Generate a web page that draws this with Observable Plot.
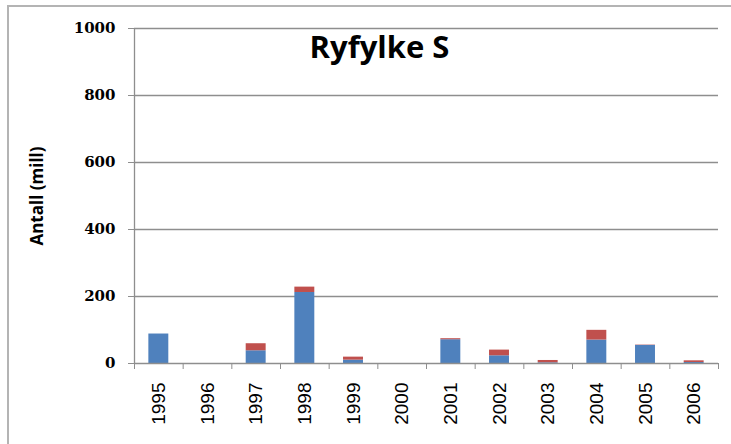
<!DOCTYPE html>
<html><head><meta charset="utf-8">
<script src="https://cdn.jsdelivr.net/npm/d3@7"></script>
<script src="https://cdn.jsdelivr.net/npm/@observablehq/plot@0.6"></script>
<style>
body{margin:0;background:#fff;}
#wrap{position:relative;width:731px;height:444px;overflow:hidden;}
#border{position:absolute;left:7px;top:5px;width:730px;height:450px;border-left:2px solid #b4b4b4;border-top:2px solid #b4b4b4;pointer-events:none;}
#wrap svg{position:absolute;left:0;top:0;}
</style></head><body><div id="wrap"><div id="border"></div></div>
<script>
const years = [1995, 1996, 1997, 1998, 1999, 2000, 2001, 2002, 2003, 2004, 2005, 2006];
const blueVals = [88, 0, 38, 212, 10, 0, 71, 23, 2, 70, 54, 3];
const redVals  = [0, 0, 21, 16, 9, 0, 3, 17, 7, 29, 1, 5];
const seriesNames = ["Serie 1", "Serie 2"];
const seriesColors = ["#4F81BD", "#C0504D"];
const yTicks = [0, 200, 400, 600, 800, 1000];
const title = "Ryfylke S";
const yLabel = "Antall (mill)";

const halfBar = 0.205;
const rows = years.flatMap((yr, i) => [
  {year: yr, series: seriesNames[0], y1: 0, y2: blueVals[i]},
  {year: yr, series: seriesNames[1], y1: blueVals[i], y2: blueVals[i] + redVals[i]}
]);
const boundaries = [years[0] - 0.5, ...years.map(y => y + 0.5)];
const grid = "#8e8e8e";

const chart = Plot.plot({
  width: 731, height: 444,
  marginLeft: 134, marginRight: 13, marginTop: 28, marginBottom: 81,
  style: {background: "transparent"},
  x: {type: "linear", domain: [years[0] - 0.5, years[years.length - 1] + 0.5]},
  y: {domain: [0, 1000]},
  color: {domain: seriesNames, range: seriesColors},
  marks: [
    Plot.gridY(yTicks.slice(1), {stroke: grid, strokeOpacity: 1, strokeWidth: 1.3}),
    Plot.rectY(rows, {x1: d => d.year - halfBar, x2: d => d.year + halfBar, y1: "y1", y2: "y2", fill: "series"}),
    Plot.ruleY([0], {stroke: grid, strokeWidth: 1.3}),
    Plot.ruleX([boundaries[0]], {stroke: grid, strokeWidth: 1.3}),
    Plot.axisY(yTicks, {tickSize: 6, tickPadding: 13, stroke: grid, fill: "#000", tickFormat: d => String(d), fontFamily: "DejaVu Serif", fontWeight: "bold", fontSize: 15, label: null}),
    Plot.axisX(boundaries, {tickSize: 6, tickFormat: () => "", stroke: grid, label: null}),
    Plot.axisX(years, {tickSize: 0, tickRotate: -90, tickPadding: 19, tickFormat: d => String(d), fill: "#000", fontFamily: "Liberation Sans", fontSize: 19, label: null}),
    Plot.text([yLabel], {frameAnchor: "left", textAnchor: "middle", rotate: -90, dx: -97, fontFamily: "Open Sans", fontWeight: "bold", fontSize: 17, fill: "#000"}),
    Plot.text([title], {frameAnchor: "top", dx: -47, dy: 29, lineAnchor: "bottom", fontFamily: "Open Sans", fontWeight: "bold", fontSize: 31, fill: "#000"})
  ]
});
document.getElementById("wrap").prepend(chart);
</script>
</body></html>
